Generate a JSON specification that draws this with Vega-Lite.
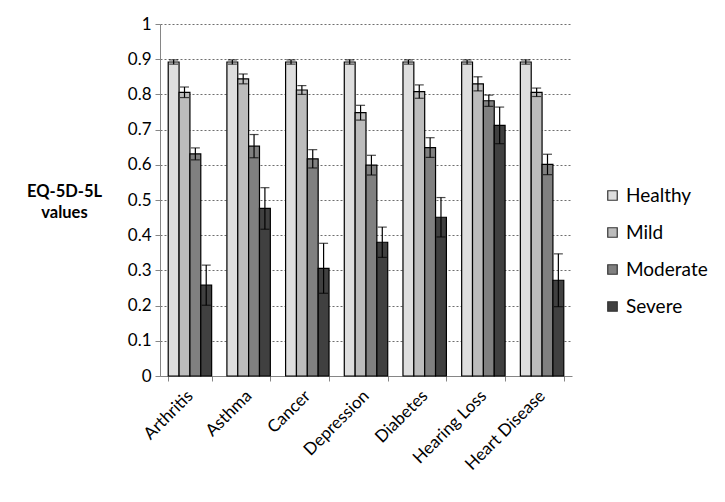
{
  "$schema": "https://vega.github.io/schema/vega-lite/v6.json",
  "width": 412,
  "height": 352,
  "autosize": {"type": "none"},
  "padding": {"left": 160, "top": 24, "right": 153, "bottom": 126},
  "background": "white",
  "config": {
    "font": "Lato",
    "view": {"stroke": null},
    "axis": {"labelFont": "Lato", "titleFont": "Lato", "labelFontSize": 17, "labelColor": "#000", "domainColor": "#868686", "tickColor": "#868686", "titleColor": "#000"},
    "axisY": {
      "values": [0, 0.1, 0.2, 0.3, 0.4, 0.5, 0.6, 0.7, 0.8, 0.9, 1],
      "format": "~g",
      "titleAngle": 0, "titleFontWeight": "bold", "titleFontSize": 16.5,
      "titleAlign": "center", "titleBaseline": "middle", "titleLineHeight": 21,
      "titleX": -96, "titleY": 167,
      "grid": true, "gridDash": [2, 2], "gridColor": "#6e6e6e", "gridWidth": 1,
      "tickSize": 5, "labelPadding": 4, "labelOverlap": false
    },
    "legend": {"labelFont": "Lato", "labelFontSize": 19, "labelColor": "#000"}
  },
  "data": {
    "values": [
      {"condition": "Arthritis", "severity": "Healthy", "value": 0.892, "lo": 0.886, "hi": 0.898},
      {"condition": "Arthritis", "severity": "Mild", "value": 0.806, "lo": 0.791, "hi": 0.821},
      {"condition": "Arthritis", "severity": "Moderate", "value": 0.631, "lo": 0.614, "hi": 0.648},
      {"condition": "Arthritis", "severity": "Severe", "value": 0.258, "lo": 0.201, "hi": 0.315},
      {"condition": "Asthma", "severity": "Healthy", "value": 0.892, "lo": 0.886, "hi": 0.898},
      {"condition": "Asthma", "severity": "Mild", "value": 0.844, "lo": 0.830, "hi": 0.858},
      {"condition": "Asthma", "severity": "Moderate", "value": 0.653, "lo": 0.620, "hi": 0.686},
      {"condition": "Asthma", "severity": "Severe", "value": 0.476, "lo": 0.417, "hi": 0.535},
      {"condition": "Cancer", "severity": "Healthy", "value": 0.892, "lo": 0.886, "hi": 0.898},
      {"condition": "Cancer", "severity": "Mild", "value": 0.8125, "lo": 0.800, "hi": 0.825},
      {"condition": "Cancer", "severity": "Moderate", "value": 0.617, "lo": 0.591, "hi": 0.643},
      {"condition": "Cancer", "severity": "Severe", "value": 0.306, "lo": 0.235, "hi": 0.377},
      {"condition": "Depression", "severity": "Healthy", "value": 0.892, "lo": 0.886, "hi": 0.898},
      {"condition": "Depression", "severity": "Mild", "value": 0.748, "lo": 0.727, "hi": 0.769},
      {"condition": "Depression", "severity": "Moderate", "value": 0.599, "lo": 0.571, "hi": 0.627},
      {"condition": "Depression", "severity": "Severe", "value": 0.380, "lo": 0.337, "hi": 0.423},
      {"condition": "Diabetes", "severity": "Healthy", "value": 0.892, "lo": 0.886, "hi": 0.898},
      {"condition": "Diabetes", "severity": "Mild", "value": 0.808, "lo": 0.789, "hi": 0.827},
      {"condition": "Diabetes", "severity": "Moderate", "value": 0.649, "lo": 0.621, "hi": 0.677},
      {"condition": "Diabetes", "severity": "Severe", "value": 0.451, "lo": 0.395, "hi": 0.507},
      {"condition": "Hearing Loss", "severity": "Healthy", "value": 0.892, "lo": 0.886, "hi": 0.898},
      {"condition": "Hearing Loss", "severity": "Mild", "value": 0.830, "lo": 0.810, "hi": 0.850},
      {"condition": "Hearing Loss", "severity": "Moderate", "value": 0.782, "lo": 0.766, "hi": 0.798},
      {"condition": "Hearing Loss", "severity": "Severe", "value": 0.712, "lo": 0.660, "hi": 0.764},
      {"condition": "Heart Disease", "severity": "Healthy", "value": 0.892, "lo": 0.886, "hi": 0.898},
      {"condition": "Heart Disease", "severity": "Mild", "value": 0.806, "lo": 0.794, "hi": 0.818},
      {"condition": "Heart Disease", "severity": "Moderate", "value": 0.601, "lo": 0.572, "hi": 0.630},
      {"condition": "Heart Disease", "severity": "Severe", "value": 0.272, "lo": 0.197, "hi": 0.347}
    ]
  },
  "encoding": {
    "x": {
      "field": "condition", "type": "nominal", "sort": null,
      "scale": {"paddingInner": 0.26, "paddingOuter": 0.14},
      "axis": {"title": null, "labelAngle": -45, "labelAlign": "right", "labelBaseline": "middle", "labelPadding": 12, "labelDx": 4, "tickBand": "extent", "tickSize": 5, "domainColor": "#868686"}
    },
    "xOffset": {"field": "severity", "type": "nominal", "sort": ["Healthy", "Mild", "Moderate", "Severe"], "scale": {"paddingInner": 0, "paddingOuter": 0}}
  },
  "layer": [
    {
      "mark": {"type": "bar", "stroke": "#000", "strokeWidth": 1.2},
      "encoding": {
        "y": {
          "field": "value", "type": "quantitative",
          "scale": {"domain": [0, 1], "nice": false},
          "title": ["EQ-5D-5L", "values"]
        },
        "fill": {
          "field": "severity", "type": "nominal",
          "scale": {"domain": ["Healthy", "Mild", "Moderate", "Severe"], "range": ["#dedede", "#bcbcbc", "#808080", "#404040"]},
          "legend": {
            "title": null, "orient": "none", "legendX": 443, "legendY": 162,
            "symbolType": "square", "symbolSize": 90, "symbolStrokeColor": "#333", "symbolStrokeWidth": 1.2,
            "rowPadding": 17, "labelOffset": 4
          }
        }
      }
    },
    {
      "mark": {"type": "rule", "color": "#000", "strokeWidth": 1.2},
      "encoding": {
        "y": {"field": "lo", "type": "quantitative", "title": ["EQ-5D-5L", "values"]},
        "y2": {"field": "hi"}
      }
    },
    {
      "mark": {"type": "tick", "color": "#000", "thickness": 1.2, "size": 9},
      "encoding": {"y": {"field": "lo", "type": "quantitative", "title": ["EQ-5D-5L", "values"]}}
    },
    {
      "mark": {"type": "tick", "color": "#000", "thickness": 1.2, "size": 9},
      "encoding": {"y": {"field": "hi", "type": "quantitative", "title": ["EQ-5D-5L", "values"]}}
    }
  ]
}
